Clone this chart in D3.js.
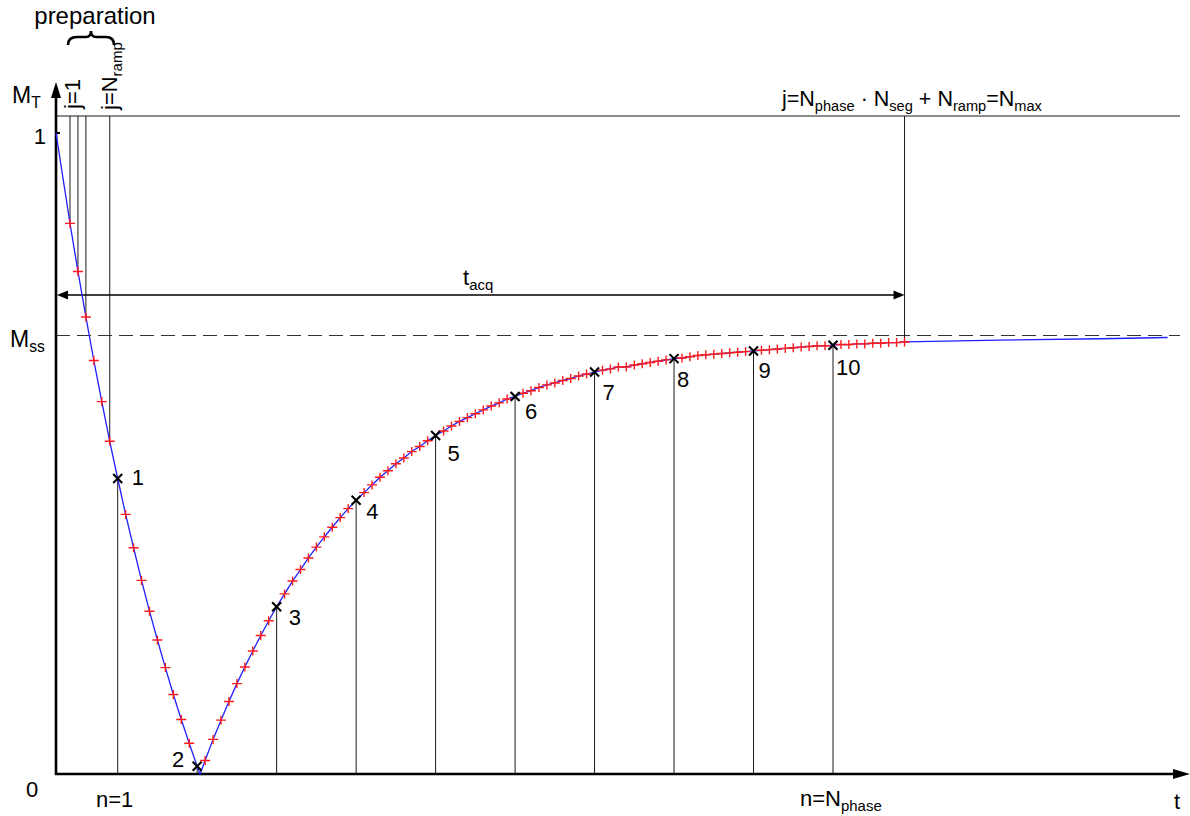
<!DOCTYPE html>
<html lang="en">
<head>
    <meta charset="utf-8" />
    <title>Transverse magnetization during segmented acquisition</title>
    <script src="https://d3js.org/d3.v7.min.js"></script>
    <style>
        body {
            margin: 0;
            padding: 0;
            background: #fff;
        }
        svg {
            display: block;
            font-family: "Liberation Sans", Arial, sans-serif;
        }
        text {
            white-space: pre;
        }
    </style>
</head>
<body>
<svg id="chart"></svg>
<script>
    var w = 1190;
    var h = 816;

    // pulse index j = 1 .. N_max
    var pulseJ = d3.range(1, 107);
    // |M_T| at every pulse (red marks)
    var pulseM = [
        0.859, 0.784, 0.713, 0.645, 0.581, 0.519, 0.461, 0.405, 0.353, 0.302,
        0.254, 0.209, 0.166, 0.124, 0.085, 0.048, 0.012, 0.021, 0.054, 0.084,
        0.113, 0.141, 0.167, 0.192, 0.216, 0.239, 0.261, 0.281, 0.301, 0.319,
        0.337, 0.354, 0.370, 0.385, 0.400, 0.414, 0.427, 0.439, 0.451, 0.463,
        0.473, 0.484, 0.493, 0.503, 0.511, 0.520, 0.528, 0.535, 0.543, 0.550,
        0.556, 0.562, 0.568, 0.574, 0.579, 0.585, 0.589, 0.594, 0.598, 0.603,
        0.607, 0.610, 0.614, 0.617, 0.621, 0.624, 0.627, 0.630, 0.632, 0.635,
        0.635, 0.638, 0.640, 0.642, 0.644, 0.646, 0.648, 0.649, 0.651, 0.653,
        0.654, 0.655, 0.656, 0.657, 0.658, 0.659, 0.660, 0.661, 0.662, 0.663,
        0.664, 0.665, 0.666, 0.667, 0.668, 0.668, 0.669, 0.670, 0.670, 0.671,
        0.671, 0.672, 0.672, 0.673, 0.673, 0.674
    ];
    // readouts n = 1 .. N_phase (black crosses)
    var readoutJ = [7, 17, 27, 37, 47, 57, 67, 77, 87, 97];
    var readoutLabels = ["1", "2", "3", "4", "5", "6", "7", "8", "9", "10"];
    // other points of the blue curve
    var startJ = -0.76, startM = 1;
    var zeroJ = 17.36;
    var tailJ = [118, 130.6, 139.1];
    var tailM = [0.677, 0.679, 0.681];
    var mSS = 0.684;
    // guide lines j=1, 2, 3 ... j=N_ramp and j=N_max
    var prepJ = [1, 2, 3, 6];
    var nMaxJ = 106;

    var svg = d3.select("#chart")
                .attr("width", w)
                .attr("height", h);

    var xScale = d3.scaleLinear()
                .domain([1, 97])
                .range([70, 833]);

    var yScale = d3.scaleLinear()
                .domain([0, 1])
                .range([774, 133]);

    var x0 = xScale(startJ);
    var y0 = yScale(0);
    var topY = 116;
    var acqY = 295;
    var lineColor = "#1a1a1a";

    function mAt(j) {
        return pulseM[pulseJ.indexOf(j)];
    }

    // text with subscripts: parts = [[text, isSub], ...]
    function richText(g, x, y, parts, size, anchor) {
        var t = g.append("text")
            .attr("x", x)
            .attr("y", y)
            .attr("font-size", size)
            .attr("text-anchor", anchor || "start")
            .attr("fill", "#000");
        var shift = 0;
        var subShift = Math.round(size * 0.22);
        parts.forEach(function(p) {
            var s = p[1] ? subShift : 0;
            t.append("tspan")
                .attr("dy", s - shift)
                .attr("font-size", p[1] ? size * 0.68 : size)
                .text(p[0]);
            shift = s;
        });
        return t;
    }

    // top reference line and M_ss dashed line
    svg.append("line")
        .attr("x1", x0).attr("x2", 1180)
        .attr("y1", topY).attr("y2", topY)
        .attr("stroke", lineColor).attr("stroke-width", 1);

    svg.append("line")
        .attr("x1", x0).attr("x2", 1180)
        .attr("y1", yScale(mSS)).attr("y2", yScale(mSS))
        .attr("stroke", "#333").attr("stroke-width", 1.1)
        .attr("stroke-dasharray", "14,7");

    // guide lines of the preparation pulses and of N_max
    svg.selectAll("line.prep")
        .data(prepJ.concat([nMaxJ]))
        .enter().append("line")
        .attr("class", "prep")
        .attr("x1", function(d) { return xScale(d); })
        .attr("x2", function(d) { return xScale(d); })
        .attr("y1", topY)
        .attr("y2", function(d) { return yScale(mAt(d)); })
        .attr("stroke", lineColor).attr("stroke-width", 1);

    // readout drop lines
    svg.selectAll("line.readout")
        .data(readoutJ)
        .enter().append("line")
        .attr("class", "readout")
        .attr("x1", function(d) { return xScale(d); })
        .attr("x2", function(d) { return xScale(d); })
        .attr("y1", function(d) { return yScale(mAt(d)); })
        .attr("y2", y0)
        .attr("stroke", lineColor).attr("stroke-width", 1);

    // t_acq double arrow
    var xEnd = xScale(nMaxJ);
    svg.append("line")
        .attr("x1", x0 + 6).attr("x2", xEnd - 6)
        .attr("y1", acqY).attr("y2", acqY)
        .attr("stroke", "#000").attr("stroke-width", 1.3);
    svg.append("path")
        .attr("d", "M" + (x0 + 1) + "," + acqY + "l11,-4.5v9z")
        .attr("fill", "#000");
    svg.append("path")
        .attr("d", "M" + xEnd + "," + acqY + "l-11,-4.5v9z")
        .attr("fill", "#000");
    richText(svg, 463, 285, [["t", false], ["acq", true]], 22);

    // axes
    svg.append("line")
        .attr("x1", x0).attr("x2", x0)
        .attr("y1", y0 + 1).attr("y2", 97)
        .attr("stroke", "#000").attr("stroke-width", 2.6);
    svg.append("path")
        .attr("d", "M" + x0 + ",82l-5,16h10z")
        .attr("fill", "#000");
    svg.append("line")
        .attr("x1", x0 - 1).attr("x2", 1173)
        .attr("y1", y0).attr("y2", y0)
        .attr("stroke", "#000").attr("stroke-width", 2.6);
    svg.append("path")
        .attr("d", "M1190," + y0 + "l-17,-5v10z")
        .attr("fill", "#000");
    // small tick at M = 1
    svg.append("line")
        .attr("x1", x0).attr("x2", x0 + 4)
        .attr("y1", yScale(1)).attr("y2", yScale(1))
        .attr("stroke", "#000").attr("stroke-width", 2);

    // blue magnetization curve
    var curve = [[startJ, startM]];
    pulseJ.forEach(function(j, i) {
        curve.push([j, pulseM[i]]);
        if (j === 17) {
            curve.push([zeroJ, 0]);
        }
    });
    tailJ.forEach(function(j, i) {
        curve.push([j, tailM[i]]);
    });

    var line = d3.line()
        .x(function(d) { return xScale(d[0]); })
        .y(function(d) { return yScale(d[1]); });

    svg.append("path")
        .datum(curve)
        .attr("d", line)
        .attr("fill", "none")
        .attr("stroke", "#1f1fff")
        .attr("stroke-width", 1.3);

    // red "+" at every excitation pulse (not at readouts)
    var plusData = pulseJ.filter(function(j) { return readoutJ.indexOf(j) < 0; });
    svg.selectAll("path.plus")
        .data(plusData)
        .enter().append("path")
        .attr("class", "plus")
        .attr("d", function(d) {
            var x = xScale(d), y = yScale(mAt(d));
            return "M" + (x - 5) + "," + y + "h10M" + x + "," + (y - 4.5) + "v9";
        })
        .attr("stroke", "#ff1a1a")
        .attr("stroke-width", 1.4)
        .attr("fill", "none");

    // black "x" at readouts
    svg.selectAll("path.cross")
        .data(readoutJ)
        .enter().append("path")
        .attr("class", "cross")
        .attr("d", function(d) {
            var x = xScale(d), y = yScale(mAt(d));
            return "M" + (x - 4.5) + "," + (y - 4.5) + "l9,9M" + (x - 4.5) + "," + (y + 4.5) + "l9,-9";
        })
        .attr("stroke", "#000")
        .attr("stroke-width", 2.1)
        .attr("fill", "none");

    // readout numbers
    var labelOffsets = [[14, 7], [-13, 1], [12, 18], [10, 19], [12, 25],
                        [10, 23], [8, 28], [3, 28], [5, 27], [3, 30]];
    svg.selectAll("text.num")
        .data(readoutJ)
        .enter().append("text")
        .attr("class", "num")
        .attr("x", function(d, i) { return xScale(d) + labelOffsets[i][0]; })
        .attr("y", function(d, i) { return yScale(mAt(d)) + labelOffsets[i][1]; })
        .attr("text-anchor", function(d, i) { return i === 1 ? "end" : "start"; })
        .attr("font-size", 22)
        .text(function(d, i) { return readoutLabels[i]; });

    // axis labels
    richText(svg, 12, 103, [["M", false], ["T", true]], 23);
    svg.append("text").attr("x", 46).attr("y", 144).attr("text-anchor", "end")
        .attr("font-size", 22).text("1");
    richText(svg, 10, 347, [["M", false], ["ss", true]], 23);
    svg.append("text").attr("x", 32).attr("y", 797).attr("text-anchor", "middle")
        .attr("font-size", 22).text("0");
    svg.append("text").attr("x", xScale(readoutJ[0]) - 3).attr("y", 807).attr("text-anchor", "middle")
        .attr("font-size", 22).text("n=1");
    richText(svg, 800, 806, [["n=N", false], ["phase", true]], 22);
    svg.append("text").attr("x", 1174).attr("y", 809)
        .attr("font-size", 22).text("t");
    richText(svg, 782, 106, [["j=N", false], ["phase", true], [" \u00b7 N", false], ["seg", true],
        [" + N", false], ["ramp", true], ["=N", false], ["max", true]], 21.5);

    // rotated pulse labels
    var jl = svg.append("g").attr("transform", "translate(80,109) rotate(-90)");
    richText(jl, 0, 0, [["j=1", false]], 22);
    var jr = svg.append("g").attr("transform", "translate(117,110) rotate(-90)");
    richText(jr, 0, 0, [["j=N", false], ["ramp", true]], 22);

    // preparation brace
    svg.append("path")
        .attr("d", "M68,45 Q68,37 77,37 L86,37 Q91,37 91,31 Q91,37 96,37 L106,37 Q114,37 114,45")
        .attr("fill", "none")
        .attr("stroke", "#000")
        .attr("stroke-width", 2.6);
    svg.append("text").attr("x", 95).attr("y", 24).attr("text-anchor", "middle")
        .attr("font-size", 24).text("preparation");
</script>
</body>
</html>
